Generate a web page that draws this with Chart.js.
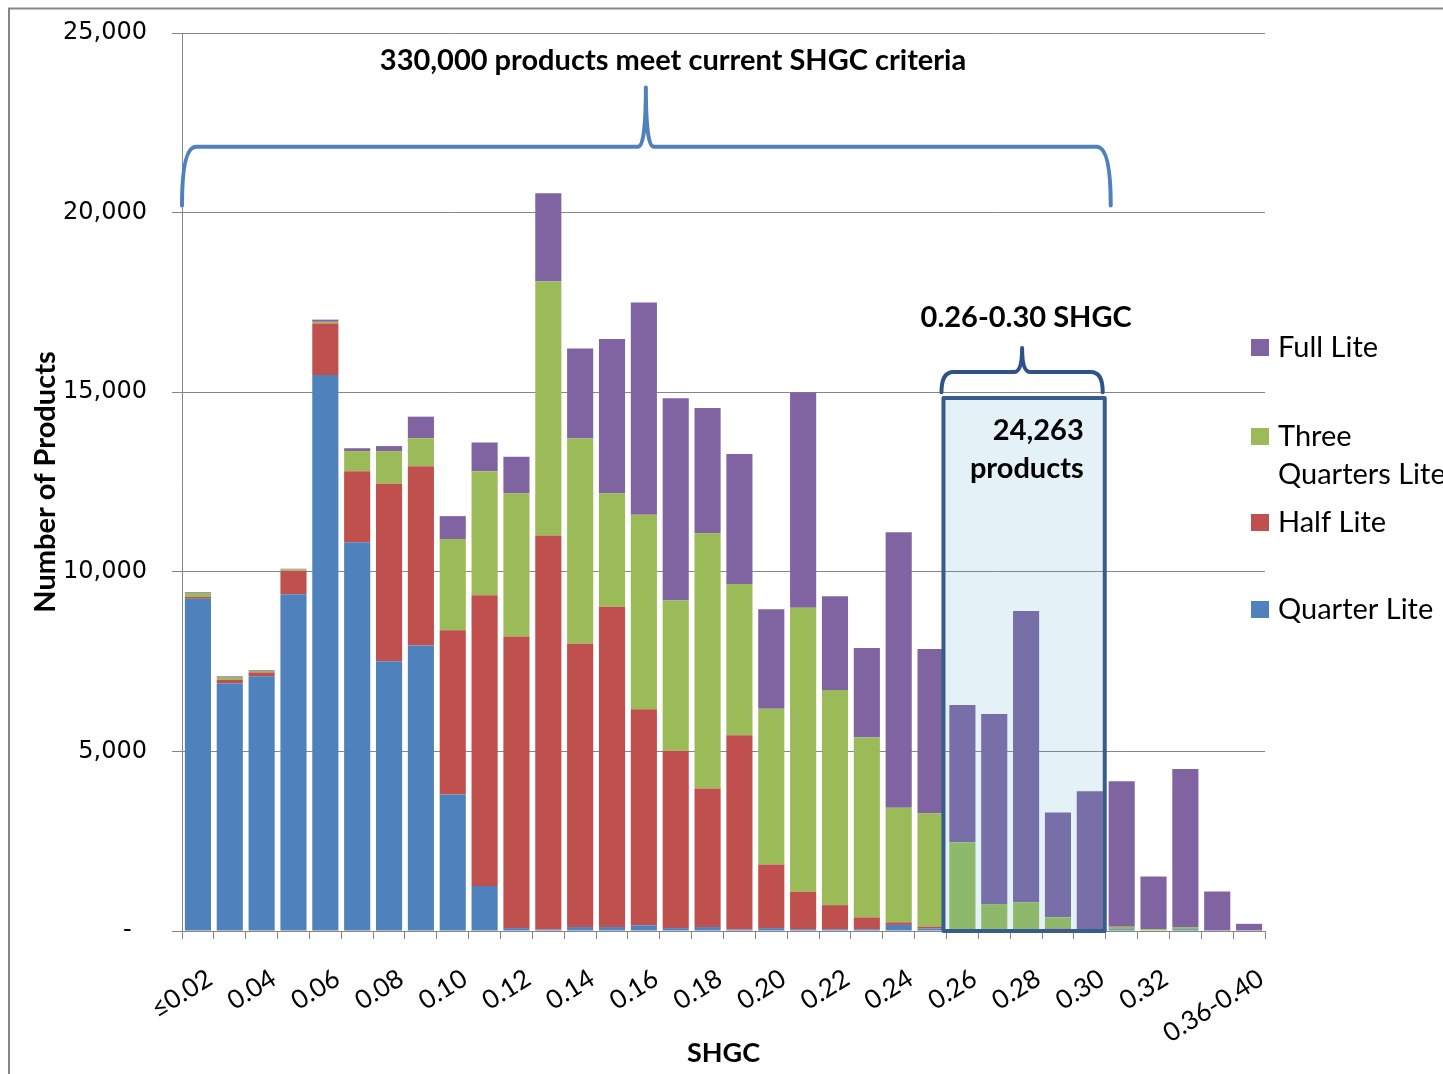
<!DOCTYPE html>
<html><head><meta charset="utf-8">
<script src="https://cdn.jsdelivr.net/npm/chart.js@4.4.1/dist/chart.umd.min.js"></script>
<style>html,body{margin:0;padding:0;background:#fff;} #wrap{width:1443px;height:1074px;position:relative;}</style>
</head><body><div id="wrap"><canvas id="c" width="1443" height="1074"></canvas></div>
<script>
const categories = ['≤0.02','0.03','0.04','0.05','0.06','0.07','0.08','0.09','0.10','0.11','0.12','0.13','0.14','0.15','0.16','0.17','0.18','0.19','0.20','0.21','0.22','0.23','0.24','0.25','0.26','0.27','0.28','0.29','0.30','0.31','0.32','0.33','0.34-0.35','0.36-0.40'];
const tickLabels = ['≤0.02','','0.04','','0.06','','0.08','','0.10','','0.12','','0.14','','0.16','','0.18','','0.20','','0.22','','0.24','','0.26','','0.28','','0.30','','0.32','','','0.36-0.40'];
const seriesNames = ['Quarter Lite','Half Lite','Three Quarters Lite','Full Lite'];
const seriesColors = ['#4F81BD','#C0504D','#9BBB59','#8064A2'];
const quarterLite = [9250,6900,7090,9375,15480,10820,7510,7950,3800,1250,80,40,110,110,160,80,110,40,80,50,50,50,170,70,10,10,10,10,0,50,0,50,0,0];
const halfLite = [50,90,110,650,1430,1980,4940,4990,4575,8100,8120,10970,7890,8920,6010,4940,3860,5410,1770,1040,670,330,70,50,10,0,0,60,0,0,0,0,0,0];
const threeQuartersLite = [110,80,40,40,50,560,910,780,2535,3450,3990,7070,5710,3160,5420,4180,7100,4210,4340,7910,5990,5010,3190,3160,2450,740,790,310,0,70,50,60,0,0];
const fullLite = [20,20,20,20,60,80,140,600,640,800,1010,2460,2510,4290,5910,5630,3490,3620,2770,6000,2610,2490,7670,4570,3820,5290,8110,2920,3890,4050,1470,4400,1100,200];
const yTicks = [0,5000,10000,15000,20000,25000];

const bigNote = '330,000 products meet current SHGC criteria';
const rangeNote = '0.26-0.30 SHGC';
const boxNote = ['24,263','products'];
const boxFirst = 24, boxLast = 28;

function brace(ctx, x1, x2, yFlat, yEnd, yPeak, xPeak, r, color, lw) {
  ctx.save();
  ctx.strokeStyle = color; ctx.lineWidth = lw; ctx.lineJoin = 'round'; ctx.lineCap = 'round';
  ctx.beginPath();
  ctx.moveTo(x1, yEnd);
  ctx.quadraticCurveTo(x1, yFlat, x1 + r, yFlat);
  ctx.lineTo(xPeak - 8, yFlat);
  ctx.quadraticCurveTo(xPeak, yFlat, xPeak, yPeak);
  ctx.moveTo(xPeak, yPeak);
  ctx.quadraticCurveTo(xPeak, yFlat, xPeak + 8, yFlat);
  ctx.lineTo(x2 - r, yFlat);
  ctx.quadraticCurveTo(x2, yFlat, x2, yEnd);
  ctx.stroke();
  ctx.restore();
}

const annot = {
  id: 'annot',
  afterDatasetsDraw(chart) {
    const ctx = chart.ctx, xs = chart.scales.x, ys = chart.scales.y, ca = chart.chartArea;
    const w = xs.getPixelForValue(1) - xs.getPixelForValue(0);
    const bL = xs.getPixelForValue(boxFirst) - w / 2 - 3;
    const bR = xs.getPixelForValue(boxLast) + w / 2 - 1;
    const bT = ys.getPixelForValue(14840), bB = ys.getPixelForValue(0);
    ctx.save();
    ctx.fillStyle = 'rgba(75,168,208,0.15)';
    ctx.fillRect(bL, bT, bR - bL, bB - bT);
    ctx.strokeStyle = '#385D8A'; ctx.lineWidth = 4; ctx.lineJoin = 'round';
    ctx.strokeRect(bL, bT, bR - bL, bB - bT);
    ctx.fillStyle = '#000';
    ctx.font = 'bold 29px Lato';
    ctx.textAlign = 'right'; ctx.textBaseline = 'middle';
    ctx.fillText(boxNote[0], bR - 21, ys.getPixelForValue(13920));
    ctx.fillText(boxNote[1], bR - 21, ys.getPixelForValue(12860));
    const sx1 = bL - 2, sx2 = bR - 2;
    brace(ctx, sx1, sx2, ys.getPixelForValue(15560), ys.getPixelForValue(15000), ys.getPixelForValue(16230), (sx1 + sx2) / 2, 12, '#2F5388', 4);
    ctx.textAlign = 'center';
    ctx.fillText(rangeNote, (sx1 + sx2) / 2 + 4, ys.getPixelForValue(17070));
    const gx1 = ca.left, gx2 = xs.getPixelForValue(boxLast) + w / 2 + 5;
    brace(ctx, gx1, gx2, ys.getPixelForValue(21830), ys.getPixelForValue(20200), ys.getPixelForValue(23480), xs.getPixelForValue(14) + 2, 14, '#4F81BD', 4);
    ctx.fillText(bigNote, 673, ys.getPixelForValue(24220));
    ctx.restore();
  },
  afterDraw(chart) {
    const ctx = chart.ctx;
    ctx.save();
    ctx.strokeStyle = '#868686'; ctx.lineWidth = 2;
    ctx.beginPath();
    ctx.moveTo(9, 1080); ctx.lineTo(9, 8.5); ctx.lineTo(1450, 8.5);
    ctx.stroke();
    const items = [{i: 3, y: 348}, {i: 2, y: 437}, {i: 1, y: 523}, {i: 0, y: 610}];
    ctx.font = '29px Lato'; ctx.textBaseline = 'middle'; ctx.textAlign = 'left';
    items.forEach(it => {
      const ds = chart.data.datasets[it.i];
      ctx.fillStyle = ds.backgroundColor;
      ctx.fillRect(1251, it.y - 9, 18, 17);
      ctx.fillStyle = '#000';
      const words = ds.label.split(' ');
      let lines = [], cur = '';
      words.forEach(wd => {
        const t = cur ? cur + ' ' + wd : wd;
        if (ctx.measureText(t).width > 182 && cur) { lines.push(cur); cur = wd; } else cur = t;
      });
      lines.push(cur);
      lines.forEach((ln, k) => ctx.fillText(ln, 1278, it.y + k * 38));
    });
    ctx.restore();
  }
};

const datasetsSrc = [quarterLite, halfLite, threeQuartersLite, fullLite];
new Chart(document.getElementById('c'), {
  type: 'bar',
  data: {
    labels: categories,
    datasets: datasetsSrc.map((d, k) => ({
      label: seriesNames[k], data: d, backgroundColor: seriesColors[k],
      borderWidth: 0, categoryPercentage: 1, barPercentage: 0.82
    }))
  },
  options: {
    responsive: false, animation: false,
    layout: {padding: {left: 0, right: 178, top: 33, bottom: 0}},
    plugins: {legend: {display: false}, tooltip: {enabled: false}},
    scales: {
      x: {
        stacked: true,
        grid: {display: true, drawOnChartArea: false, drawTicks: true, tickLength: 8, color: '#868686', offset: true},
        border: {display: true, color: '#868686', width: 1},
        ticks: {autoSkip: false, maxRotation: 32, minRotation: 32, color: '#000', font: {family: 'Lato', size: 26}, padding: 24, labelOffset: 12,
          callback: (v, i) => tickLabels[i]},
        title: {display: true, text: 'SHGC', color: '#000', font: {family: 'Lato', size: 27, weight: 'bold'}, padding: {top: 0, bottom: 5}},
        afterFit: s => { s.height = 143; }
      },
      y: {
        stacked: true, min: 0, max: 25000,
        afterBuildTicks: s => { s.ticks = yTicks.map(v => ({value: v})); },
        grid: {color: '#868686', lineWidth: 1, tickLength: 10},
        border: {display: true, color: '#868686', width: 1},
        ticks: {color: '#000', font: {family: 'DejaVu Sans', size: 24}, padding: 25,
          callback: v => v === 0 ? '-  ' : v.toLocaleString('en-US')},
        title: {display: true, text: 'Number of Products', color: '#000', font: {family: 'Lato', size: 29, weight: 'bold'}, padding: {top: 28, bottom: 0}},
        afterFit: s => { s.width = 182; s.paddingTop = 0; s.paddingBottom = 0; }
      }
    }
  },
  plugins: [annot]
});
</script></body></html>
